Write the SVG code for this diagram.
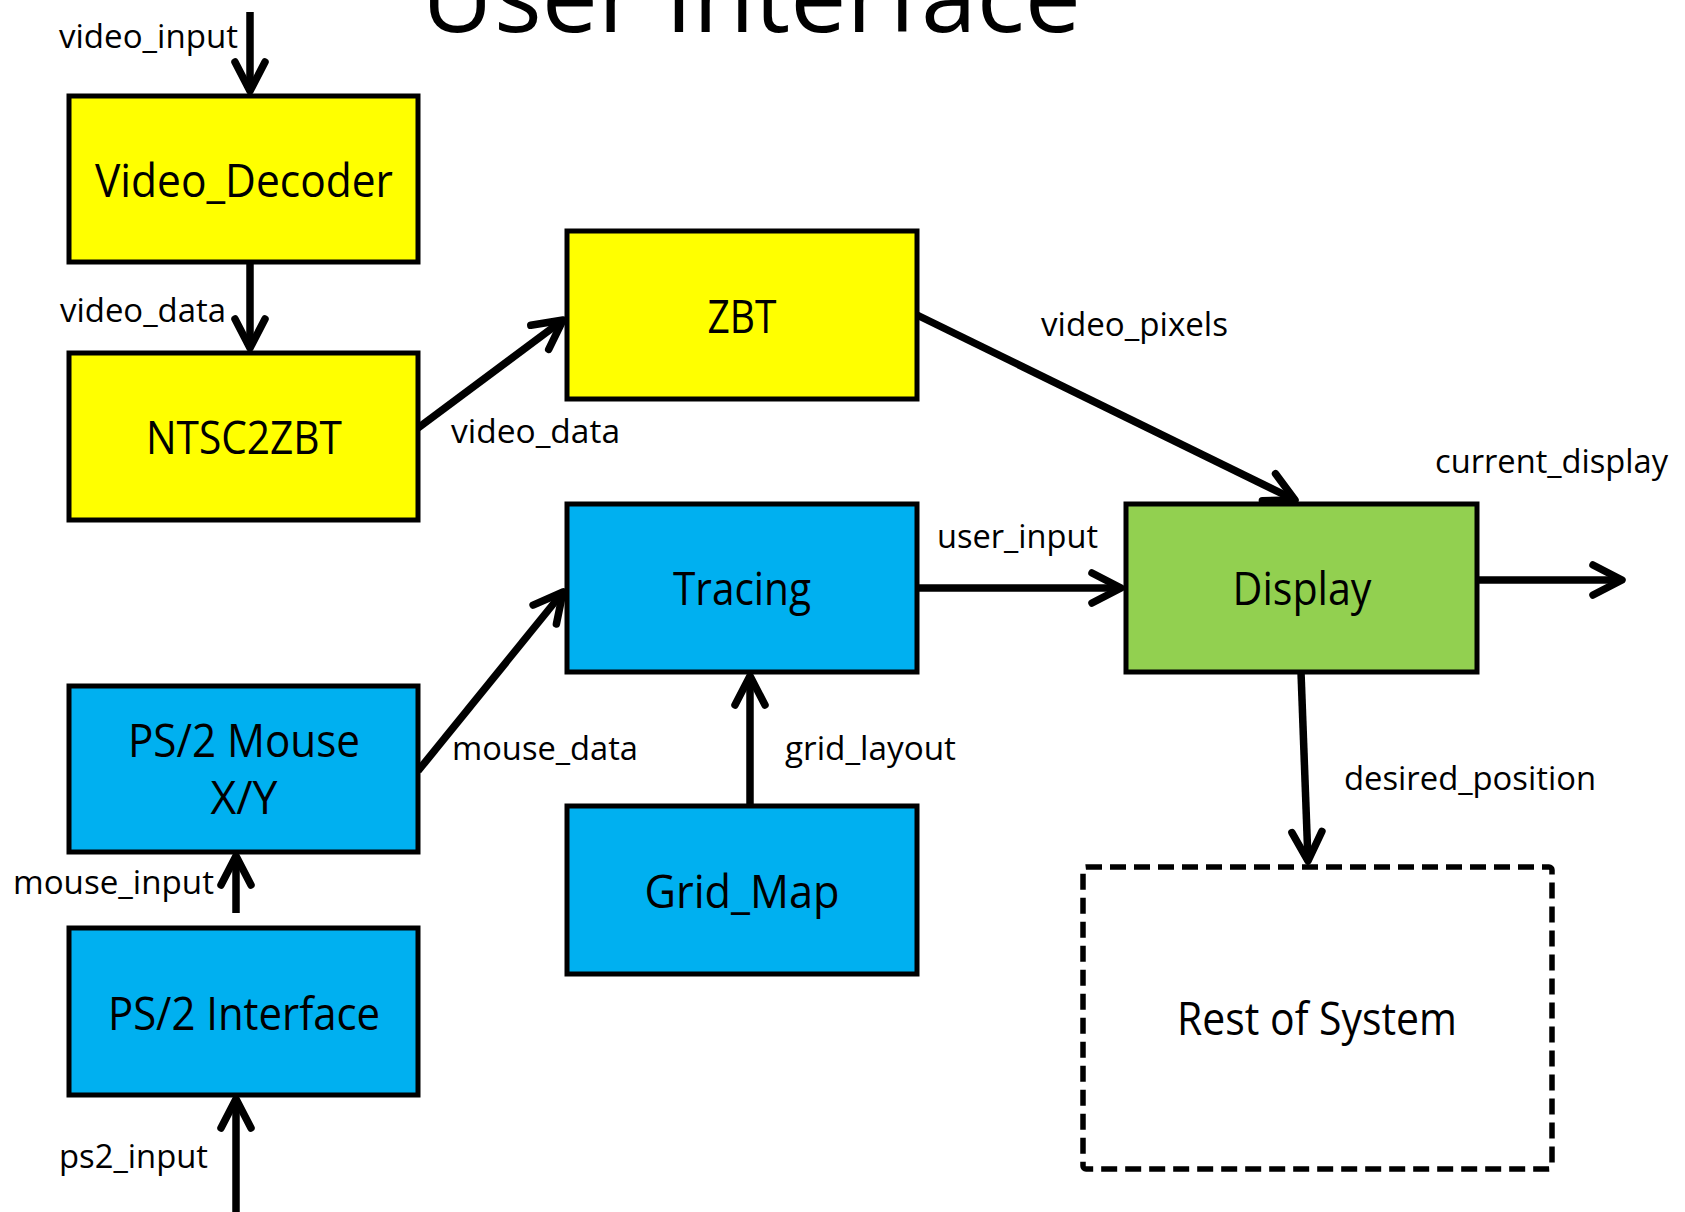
<svg xmlns="http://www.w3.org/2000/svg" width="1685" height="1212" viewBox="0 0 1685 1212">
  <style>
    .box { stroke: #000; stroke-width: 5; }
    .yellow { fill: #FFFF00; }
    .blue { fill: #00B0F0; }
    .green { fill: #92D050; }
    .dashed { fill: none; stroke: #000; stroke-width: 5.5; stroke-dasharray: 16 8; }
    .name { font-family: "Open Sans", "Noto Sans", sans-serif; font-size: 46px; fill: #000; text-anchor: middle; }
    .sig { font-family: "Open Sans", "Noto Sans", sans-serif; font-size: 33px; fill: #000; }
    .title { font-family: "Open Sans", "Noto Sans", sans-serif; font-size: 100px; fill: #000; }
    .wire { fill: none; stroke: #000; stroke-width: 7.5; marker-end: url(#head); }
  </style>
  <defs>
    <marker id="head" markerUnits="userSpaceOnUse" viewBox="-36 -22 42 44" refX="0" refY="0" markerWidth="42" markerHeight="44" orient="auto" overflow="visible">
      <path d="M -29 -15 L 0 0 L -29 15" fill="none" stroke="#000" stroke-width="7.5" stroke-linecap="round" stroke-linejoin="round"/>
    </marker>
  </defs>
  <rect width="1685" height="1212" fill="#fff"/>

  <text class="title" x="421" y="32" textLength="660" lengthAdjust="spacingAndGlyphs">User Interface</text>

  <g id="connectors">
    <line class="wire" x1="250" y1="12" x2="250" y2="91"/>
    <line class="wire" x1="250" y1="262" x2="250" y2="348"/>
    <line class="wire" x1="418" y1="428" x2="563" y2="320"/>
    <line class="wire" x1="917" y1="315" x2="1295" y2="500"/>
    <line class="wire" x1="917" y1="588" x2="1121" y2="588"/>
    <line class="wire" x1="1477" y1="580" x2="1622" y2="580"/>
    <line class="wire" x1="1301" y1="672" x2="1308" y2="861"/>
    <line class="wire" x1="418" y1="771" x2="563" y2="592"/>
    <line class="wire" x1="750" y1="806" x2="750" y2="676"/>
    <line class="wire" x1="236" y1="913" x2="236" y2="856"/>
    <line class="wire" x1="236" y1="1212" x2="236" y2="1099"/>

    <text class="sig" x="59" y="48" textLength="179" lengthAdjust="spacingAndGlyphs">video_input</text>
    <text class="sig" x="60" y="322" textLength="166" lengthAdjust="spacingAndGlyphs">video_data</text>
    <text class="sig" x="451" y="443" textLength="169" lengthAdjust="spacingAndGlyphs">video_data</text>
    <text class="sig" x="1041" y="336" textLength="187" lengthAdjust="spacingAndGlyphs">video_pixels</text>
    <text class="sig" x="937" y="548" textLength="161" lengthAdjust="spacingAndGlyphs">user_input</text>
    <text class="sig" x="1435" y="473" textLength="233" lengthAdjust="spacingAndGlyphs">current_display</text>
    <text class="sig" x="1344" y="790" textLength="252" lengthAdjust="spacingAndGlyphs">desired_position</text>
    <text class="sig" x="452" y="760" textLength="186" lengthAdjust="spacingAndGlyphs">mouse_data</text>
    <text class="sig" x="785" y="760" textLength="171" lengthAdjust="spacingAndGlyphs">grid_layout</text>
    <text class="sig" x="13" y="894" textLength="201" lengthAdjust="spacingAndGlyphs">mouse_input</text>
    <text class="sig" x="59" y="1168" textLength="149" lengthAdjust="spacingAndGlyphs">ps2_input</text>
  </g>

  <g id="video_decoder">
    <rect class="box yellow" x="69" y="96" width="349" height="166"/>
    <text class="name" x="244" y="197" textLength="298" lengthAdjust="spacingAndGlyphs">Video_Decoder</text>
  </g>
  <g id="ntsc2zbt">
    <rect class="box yellow" x="69" y="353" width="349" height="167"/>
    <text class="name" x="244" y="454" textLength="196" lengthAdjust="spacingAndGlyphs">NTSC2ZBT</text>
  </g>
  <g id="zbt">
    <rect class="box yellow" x="567" y="231" width="350" height="168"/>
    <text class="name" x="742" y="333" textLength="69" lengthAdjust="spacingAndGlyphs">ZBT</text>
  </g>
  <g id="tracing">
    <rect class="box blue" x="567" y="504" width="350" height="168"/>
    <text class="name" x="742" y="605" textLength="138" lengthAdjust="spacingAndGlyphs">Tracing</text>
  </g>
  <g id="grid_map">
    <rect class="box blue" x="567" y="806" width="350" height="168"/>
    <text class="name" x="742" y="908" textLength="195" lengthAdjust="spacingAndGlyphs">Grid_Map</text>
  </g>
  <g id="display">
    <rect class="box green" x="1126" y="504" width="351" height="168"/>
    <text class="name" x="1302" y="605" textLength="139" lengthAdjust="spacingAndGlyphs">Display</text>
  </g>
  <g id="ps2_mouse">
    <rect class="box blue" x="69" y="686" width="349" height="166"/>
    <text class="name" x="244" y="757" textLength="232" lengthAdjust="spacingAndGlyphs">PS/2 Mouse</text>
    <text class="name" x="244" y="814" textLength="67" lengthAdjust="spacingAndGlyphs">X/Y</text>
  </g>
  <g id="ps2_interface">
    <rect class="box blue" x="69" y="928" width="349" height="167"/>
    <text class="name" x="244" y="1030" textLength="272" lengthAdjust="spacingAndGlyphs">PS/2 Interface</text>
  </g>
  <g id="rest_of_system">
    <rect class="dashed" x="1083" y="867" width="469" height="302" rx="3"/>
    <text class="name" x="1317" y="1035" textLength="280" lengthAdjust="spacingAndGlyphs">Rest of System</text>
  </g>
</svg>
